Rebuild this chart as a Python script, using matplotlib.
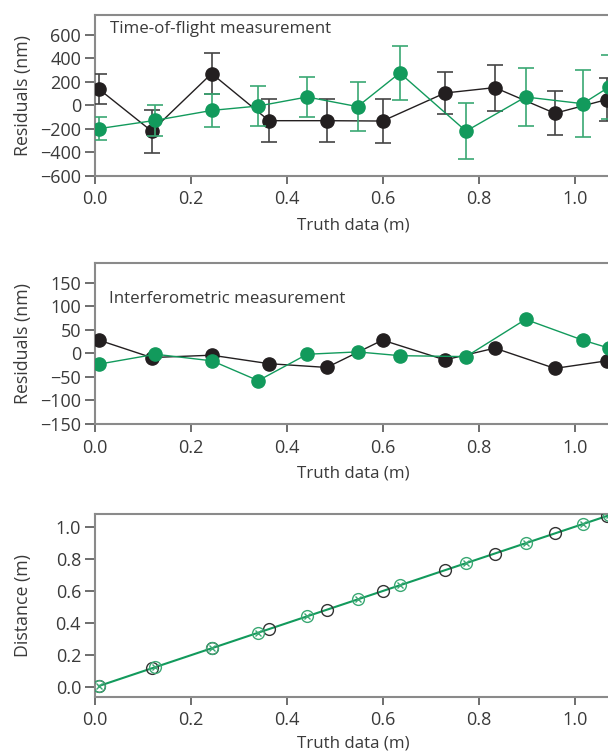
import matplotlib
matplotlib.use("Agg")
import matplotlib.pyplot as plt

# ---- data ----
tof_black_x = [0.008, 0.118, 0.243, 0.3625, 0.483, 0.599, 0.729, 0.833, 0.958, 1.066]
tof_black_y = [139, -220, 271, -131, -131, -134, 105, 151, -68, 49]
tof_black_err = [131, 183, 175, 181, 182, 191, 180, 197, 188, 185]

tof_green_x = [0.008, 0.126, 0.244, 0.340, 0.442, 0.547, 0.635, 0.773, 0.897, 1.016, 1.071]
tof_green_y = [-199, -128, -43, -6, 71, -11, 276, -220, 71, 14, 156]
tof_green_err = [97, 133, 142, 168, 170, 206, 228, 238, 245, 285, 275]

int_black_y = [28, -9, -4, -22, -30, 28, -14, 11, -32, -16]
int_green_y = [-23, -2, -16, -58, -2, 3, -5, -7, 72, 28, 11]

dist_black = [0.008, 0.118, 0.243, 0.3625, 0.483, 0.599, 0.729, 0.833, 0.958, 1.066]
dist_green = [0.008, 0.126, 0.244, 0.340, 0.442, 0.547, 0.635, 0.773, 0.897, 1.016, 1.071]

x_ticks = [0.0, 0.2, 0.4, 0.6, 0.8, 1.0]
tof_yticks = [-600, -400, -200, 0, 200, 400, 600]
int_yticks = [-150, -100, -50, 0, 50, 100, 150]
dist_yticks = [0.0, 0.2, 0.4, 0.6, 0.8, 1.0]

# ---- style ----
plt.rcParams['font.family'] = ['Open Sans', 'DejaVu Sans']
plt.rcParams['font.size'] = 12
plt.rcParams['axes.unicode_minus'] = True

BLACK = '#231f20'
GREEN = '#129a5c'
GREEN_LIGHT = '#3aa873'
SPINE = '#8a8a8a'
TXT = '#3a3a3a'
LBL = 12.2
YLBL = 12.8
TICK = 13

W, H = 608, 754
fig = plt.figure(figsize=(W / 100, H / 100), dpi=100)

def axes_px(left, top, bottom, right=611):
    return fig.add_axes([left / W, 1 - bottom / H, (right - left) / W, (bottom - top) / H])

ax1 = axes_px(95, 15, 175.7)
ax2 = axes_px(95, 263.3, 424)
ax3 = axes_px(95, 514, 696.7)

def style(ax, xlabelpad=6.5):
    for s in ax.spines.values():
        s.set_color(SPINE)
        s.set_linewidth(1.5)
    ax.tick_params(direction='out', width=1.2, color='#555555',
                   labelcolor=TXT, labelsize=TICK)
    ax.tick_params(axis='x', length=5.5, pad=5)
    ax.tick_params(axis='y', length=7, pad=3)
    ax.set_xlim(0, 1.075)
    ax.set_xticks(x_ticks)
    ax.set_xticklabels([f"{t:.1f}" for t in x_ticks])
    ax.set_xlabel("Truth data (m)", color=TXT, fontsize=LBL, labelpad=xlabelpad)

# top panel
ax1.errorbar(tof_black_x, tof_black_y, yerr=tof_black_err, color=BLACK, lw=1,
             marker='o', ms=9.5, mfc=BLACK, mec=BLACK, ecolor='#444444',
             elinewidth=1.2, capsize=5.5, capthick=1.2, zorder=3)
ax1.errorbar(tof_green_x, tof_green_y, yerr=tof_green_err, color=GREEN, lw=1,
             marker='o', ms=9.5, mfc=GREEN, mec=GREEN, ecolor=GREEN_LIGHT,
             elinewidth=1.2, capsize=5.5, capthick=1.2, zorder=4)
ax1.set_ylim(-600, 770)
ax1.set_yticks(tof_yticks)
ax1.set_yticklabels([str(t).replace('-', '\u2212') for t in tof_yticks])
ax1.set_ylabel("Residuals (nm)", color=TXT, fontsize=YLBL, labelpad=6)
ax1.text(0.029, 0.915, "Time-of-flight measurement", transform=ax1.transAxes,
         ha='left', va='center', fontsize=LBL, color=TXT)
style(ax1)

# middle panel
ax2.plot(tof_black_x, int_black_y, color=BLACK, lw=1, marker='o', ms=9.5,
         mfc=BLACK, mec=BLACK, zorder=3)
ax2.plot(tof_green_x, int_green_y, color=GREEN, lw=1, marker='o', ms=9.5,
         mfc=GREEN, mec=GREEN, zorder=4)
ax2.set_ylim(-150, 191)
ax2.set_yticks(int_yticks)
ax2.set_yticklabels([str(t).replace('-', '\u2212') for t in int_yticks])
ax2.set_ylabel("Residuals (nm)", color=TXT, fontsize=YLBL, labelpad=6)
ax2.text(0.027, 0.78, "Interferometric measurement", transform=ax2.transAxes,
         ha='left', va='center', fontsize=LBL, color=TXT)
style(ax2)

# bottom panel
ax3.plot(tof_green_x, dist_green, color=GREEN, lw=1.5, zorder=2)
ax3.plot(tof_black_x, dist_black, ls='none', marker='o', ms=8.5, mfc='none',
         mec='#333333', mew=1.0, zorder=3)
ax3.plot(tof_green_x, dist_green, ls='none', marker='o', ms=8.5, mfc='none',
         mec=GREEN_LIGHT, mew=1.0, zorder=4)
ax3.plot(tof_green_x, dist_green, ls='none', marker='x', ms=5, mec=GREEN_LIGHT,
         mew=1.0, zorder=4)
ax3.set_ylim(-0.0585, 1.079)
ax3.set_yticks(dist_yticks)
ax3.set_yticklabels([f"{t:.1f}" for t in dist_yticks])
ax3.set_ylabel("Distance (m)", color=TXT, fontsize=YLBL, labelpad=17)
style(ax3, xlabelpad=4.5)

fig.savefig("out.png", dpi=100)
